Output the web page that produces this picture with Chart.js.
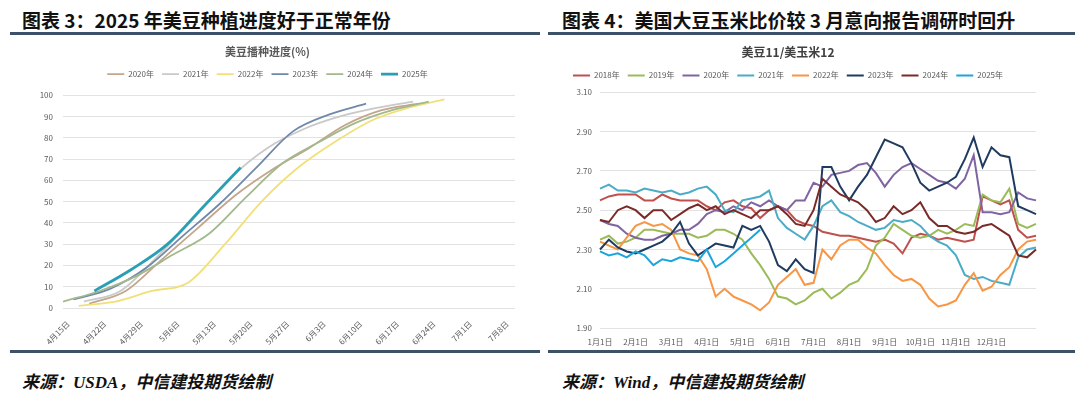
<!DOCTYPE html>
<html lang="zh">
<head>
<meta charset="UTF-8">
<title>美豆种植进度 / 豆玉比价</title>
<script src="https://cdn.jsdelivr.net/npm/chart.js"></script>
<style>
    body {
        margin: 0;
        width: 1080px;
        height: 398px;
        background: #fff;
        position: relative;
        overflow: hidden;
        font-family: "Noto Sans CJK SC", "Noto Sans", sans-serif;
    }
    .title {
        position: absolute;
        top: 6px;
        font-size: 19px;
        font-weight: bold;
        color: #111;
        white-space: nowrap;
    }
    .rule {
        position: absolute;
        height: 3px;
        background: #3d5169;
    }
    .source {
        position: absolute;
        top: 368px;
        font-family: "Liberation Serif", "Noto Sans CJK SC", serif;
        font-size: 17px;
        font-style: italic;
        font-weight: bold;
        color: #111;
        white-space: nowrap;
    }
    .box {
        position: absolute;
        top: 38px;
        width: 540px;
        height: 312px;
    }
</style>
</head>
<body>
<div class="title" style="left:22px">图表 3：2025 年美豆种植进度好于正常年份</div>
<div class="title" style="left:562px">图表 4：美国大豆玉米比价较 3 月意向报告调研时回升</div>
<div class="rule" style="left:10px;width:530px;top:32px"></div>
<div class="rule" style="left:548px;width:527px;top:32px"></div>
<div class="box" style="left:0"><canvas id="plantChart"></canvas></div>
<div class="box" style="left:540px"><canvas id="ratioChart"></canvas></div>
<div class="rule" style="left:10px;width:530px;top:350px"></div>
<div class="rule" style="left:548px;width:527px;top:350px"></div>
<div class="source" style="left:22px">来源：USDA，中信建投期货绘制</div>
<div class="source" style="left:562px">来源：Wind，中信建投期货绘制</div>

<script>
    // ---- 图表3：美豆播种进度(%)，x = 距4月15日的天数 ----
    const weekTicks = [0, 7, 14, 21, 28, 35, 42, 49, 56, 63, 70, 77, 84];
    const weekLabels = ['4月15日', '4月22日', '4月29日', '5月6日', '5月13日', '5月20日', '5月27日',
        '6月3日', '6月10日', '6月17日', '6月24日', '7月1日', '7月8日'];

    const plantYears = ['2020年', '2021年', '2022年', '2023年', '2024年', '2025年'];
    const days2020 = [4, 11, 18, 25, 32, 39, 46, 53, 60, 67];
    const plant2020 = [2, 8, 23, 38, 53, 65, 75, 86, 93, 96];
    const days2021 = [3, 10, 17, 24, 31, 38, 45, 52, 59, 66];
    const plant2021 = [3, 8, 24, 42, 61, 75, 84, 90, 94, 97];
    const days2022 = [2, 9, 16, 23, 30, 37, 44, 51, 58, 65, 72];
    const plant2022 = [1, 3, 8, 12, 30, 50, 66, 78, 88, 94, 98];
    const days2023 = [1, 8, 15, 22, 29, 36, 43, 50, 57];
    const plant2023 = [4, 9, 19, 34, 49, 66, 83, 91, 96];
    const days2024 = [-1, 6, 13, 20, 27, 34, 41, 48, 55, 62, 69];
    const plant2024 = [3, 8, 15, 25, 35, 52, 68, 78, 87, 93, 97];
    const days2025 = [5, 12, 19, 26, 33];
    const plant2025 = [8, 18, 30, 48, 66];

    // ---- 图表4：美豆11/美玉米12 ----
    const ratioLabels = [];
    ['1', '2', '3', '4', '5', '6', '7', '8', '9', '10', '11', '12'].forEach(m => {
        ['1', '8', '15', '22'].forEach(d => ratioLabels.push(m + '月' + d + '日'));
    });
    ratioLabels.push('12月27日', '12月31日');

    const ratioYears = ['2018年', '2019年', '2020年', '2021年', '2022年', '2023年', '2024年', '2025年'];
    const r2018 = [2.55, 2.57, 2.58, 2.58, 2.58, 2.55, 2.55, 2.58, 2.56, 2.55,
        2.55, 2.55, 2.52, 2.50, 2.54, 2.55, 2.52, 2.51, 2.46, 2.50,
        2.52, 2.50, 2.45, 2.43, 2.42, 2.39, 2.38, 2.37, 2.37, 2.36,
        2.35, 2.34, 2.35, 2.33, 2.28, 2.36, 2.38, 2.37, 2.35, 2.36,
        2.35, 2.34, 2.35, 2.57, 2.55, 2.53, 2.55, 2.40, 2.36, 2.37];
    const r2019 = [2.35, 2.37, 2.33, 2.34, 2.36, 2.40, 2.40, 2.39, 2.38, 2.38,
        2.38, 2.36, 2.37, 2.40, 2.40, 2.38, 2.35, 2.28, 2.22, 2.15,
        2.06, 2.05, 2.02, 2.04, 2.08, 2.10, 2.05, 2.08, 2.12, 2.14,
        2.20, 2.32, 2.36, 2.43, 2.40, 2.37, 2.36, 2.37, 2.40, 2.38,
        2.40, 2.43, 2.42, 2.58, 2.55, 2.54, 2.61, 2.43, 2.41, 2.43];
    const r2020 = [2.45, 2.43, 2.42, 2.38, 2.36, 2.35, 2.35, 2.37, 2.38, 2.40,
        2.40, 2.43, 2.48, 2.50, 2.49, 2.52, 2.50, 2.54, 2.52, 2.55,
        2.52, 2.50, 2.55, 2.55, 2.64, 2.62, 2.68, 2.69, 2.70, 2.73,
        2.74, 2.69, 2.62, 2.68, 2.72, 2.74, 2.71, 2.68, 2.65, 2.64,
        2.61, 2.66, 2.78, 2.49, 2.49, 2.48, 2.49, 2.59, 2.56, 2.55];
    const r2021 = [2.61, 2.63, 2.60, 2.60, 2.59, 2.61, 2.60, 2.59, 2.60, 2.58,
        2.59, 2.61, 2.62, 2.58, 2.50, 2.49, 2.55, 2.56, 2.57, 2.60,
        2.46, 2.41, 2.38, 2.35, 2.42, 2.52, 2.55, 2.49, 2.47, 2.44,
        2.42, 2.40, 2.41, 2.45, 2.44, 2.45, 2.42, 2.37, 2.34, 2.32,
        2.27, 2.17, 2.15, 2.16, 2.14, 2.13, 2.12, 2.26, 2.30, 2.31];
    const r2022 = [2.34, 2.32, 2.30, 2.36, 2.42, 2.44, 2.42, 2.43, 2.40, 2.30,
        2.28, 2.27, 2.20, 2.06, 2.10, 2.06, 2.04, 2.02, 1.99, 2.03,
        2.12, 2.16, 2.20, 2.12, 2.13, 2.30, 2.25, 2.32, 2.35, 2.35,
        2.31, 2.28, 2.22, 2.17, 2.14, 2.15, 2.12, 2.05, 2.01, 2.02,
        2.04, 2.12, 2.18, 2.09, 2.11, 2.17, 2.21, 2.30, 2.34, 2.35];
    const r2023 = [2.30, 2.35, 2.31, 2.29, 2.28, 2.30, 2.32, 2.34, 2.38, 2.44,
        2.33, 2.27, 2.30, 2.33, 2.32, 2.31, 2.42, 2.40, 2.42, 2.34,
        2.22, 2.19, 2.25, 2.20, 2.18, 2.72, 2.72, 2.62, 2.55, 2.62,
        2.68, 2.77, 2.86, 2.84, 2.82, 2.74, 2.64, 2.60, 2.62, 2.64,
        2.67, 2.76, 2.87, 2.72, 2.82, 2.78, 2.77, 2.52, 2.50, 2.48];
    const r2024 = [2.45, 2.44, 2.50, 2.52, 2.50, 2.46, 2.50, 2.50, 2.45, 2.48,
        2.51, 2.53, 2.50, 2.52, 2.48, 2.50, 2.48, 2.46, 2.50, 2.50,
        2.52, 2.48, 2.43, 2.42, 2.50, 2.66, 2.62, 2.58, 2.56, 2.54,
        2.50, 2.44, 2.46, 2.52, 2.48, 2.50, 2.54, 2.46, 2.42, 2.42,
        2.39, 2.38, 2.39, 2.42, 2.43, 2.40, 2.37, 2.27, 2.26, 2.30];
    const r2025 = [2.29, 2.27, 2.28, 2.26, 2.29, 2.27, 2.22, 2.25, 2.24, 2.26,
        2.25, 2.24, 2.30, 2.21, 2.24, 2.28, 2.32, 2.36, 2.40];

    const fontFamily = "'Noto Sans CJK SC', 'Noto Sans', sans-serif";
    const tickColor = '#595959';
    const gridColor = '#e2e2e2';

    // adds some room under the legend so the plot starts at the right height
    const legendGap = {
        id: 'legendGap',
        beforeInit(chart, args, opts) {
            const fit = chart.legend.fit;
            chart.legend.fit = function () {
                fit.bind(chart.legend)();
                this.height += opts.extra || 0;
            };
        }
    };

    function pairs(xs, ys) {
        return xs.map((x, i) => ({x: x, y: ys[i]}));
    }

    function legendOpts() {
        return {
            position: 'top',
            labels: {
                usePointStyle: true,
                pointStyle: 'line',
                pointStyleWidth: 17,
                padding: 8,
                color: tickColor,
                font: {family: fontFamily, size: 8},
                sort: (a, b) => a.datasetIndex - b.datasetIndex
            }
        };
    }

    // ---------- chart 3 ----------
    const plantColors = ['#c3a68c', '#c9c9c9', '#f1e07a', '#7089aa', '#a3b88c', '#2a9fb3'];
    const plantDays = [days2020, days2021, days2022, days2023, days2024, days2025];
    const plantVals = [plant2020, plant2021, plant2022, plant2023, plant2024, plant2025];

    new Chart(document.getElementById('plantChart'), {
        type: 'line',
        data: {
            datasets: plantYears.map((name, i) => ({
                label: name,
                data: pairs(plantDays[i], plantVals[i]),
                borderColor: plantColors[i],
                backgroundColor: plantColors[i],
                borderWidth: i === 5 ? 2.8 : 1.8,
                pointRadius: 0,
                cubicInterpolationMode: 'monotone',
                order: 10 - i
            }))
        },
        plugins: [legendGap],
        options: {
            responsive: true,
            maintainAspectRatio: false,
            animation: false,
            layout: {padding: {left: 20, right: 25, top: 0, bottom: 0}},
            plugins: {
                legendGap: {extra: 7},
                title: {
                    display: true,
                    text: '美豆播种进度(%)',
                    color: '#595959',
                    font: {family: fontFamily, size: 11, weight: 'bold'},
                    padding: {top: 7, bottom: 4}
                },
                legend: legendOpts(),
                tooltip: {enabled: false}
            },
            scales: {
                x: {
                    type: 'linear',
                    min: -1,
                    max: 85.5,
                    afterBuildTicks: scale => {
                        scale.ticks = weekTicks.map(v => ({value: v}));
                    },
                    afterFit: scale => { scale.height = 42; },
                    grid: {display: false},
                    border: {display: false},
                    ticks: {
                        autoSkip: false,
                        minRotation: 45,
                        maxRotation: 45,
                        color: tickColor,
                        font: {family: fontFamily, size: 8},
                        callback: (v, idx) => weekLabels[idx]
                    }
                },
                y: {
                    min: 0,
                    max: 100,
                    afterFit: scale => { scale.width = 43; },
                    grid: {color: gridColor, drawTicks: false},
                    border: {display: false},
                    ticks: {
                        stepSize: 10,
                        padding: 10,
                        color: tickColor,
                        font: {family: fontFamily, size: 8}
                    }
                }
            }
        }
    });

    // ---------- chart 4 ----------
    const ratioColors = ['#c0504d', '#9bbb59', '#8064a2', '#4bacc6', '#f79646', '#1f3b5f', '#7a2a27', '#1aa5dc'];
    const ratioVals = [r2018, r2019, r2020, r2021, r2022, r2023, r2024, r2025];

    new Chart(document.getElementById('ratioChart'), {
        type: 'line',
        data: {
            labels: ratioLabels,
            datasets: ratioYears.map((name, i) => ({
                label: name,
                data: ratioVals[i],
                borderColor: ratioColors[i],
                backgroundColor: ratioColors[i],
                borderWidth: 2,
                pointRadius: 0,
                tension: 0,
                order: 10 - i
            }))
        },
        plugins: [legendGap],
        options: {
            responsive: true,
            maintainAspectRatio: false,
            animation: false,
            layout: {padding: {left: 0, right: 44, top: 0, bottom: 0}},
            plugins: {
                legendGap: {extra: 3},
                title: {
                    display: true,
                    text: '美豆11/美玉米12',
                    color: '#404040',
                    font: {family: fontFamily, size: 12, weight: 'bold'},
                    padding: {top: 7, bottom: 4}
                },
                legend: legendOpts(),
                tooltip: {enabled: false}
            },
            scales: {
                x: {
                    offset: false,
                    afterFit: scale => { scale.height = 22; },
                    grid: {display: false},
                    border: {display: false},
                    ticks: {
                        autoSkip: false,
                        maxRotation: 0,
                        padding: 1,
                        color: tickColor,
                        font: {family: fontFamily, size: 8},
                        callback: function (v, idx) {
                            const lab = ratioLabels[idx];
                            return lab.endsWith('月1日') ? lab : '';
                        }
                    }
                },
                y: {
                    min: 1.9,
                    max: 3.1,
                    afterFit: scale => { scale.width = 60; },
                    grid: {color: gridColor, drawTicks: false},
                    border: {display: false},
                    ticks: {
                        stepSize: 0.2,
                        padding: 8,
                        color: tickColor,
                        font: {family: fontFamily, size: 8},
                        callback: v => v.toFixed(2)
                    }
                }
            }
        }
    });
</script>
</body>
</html>
